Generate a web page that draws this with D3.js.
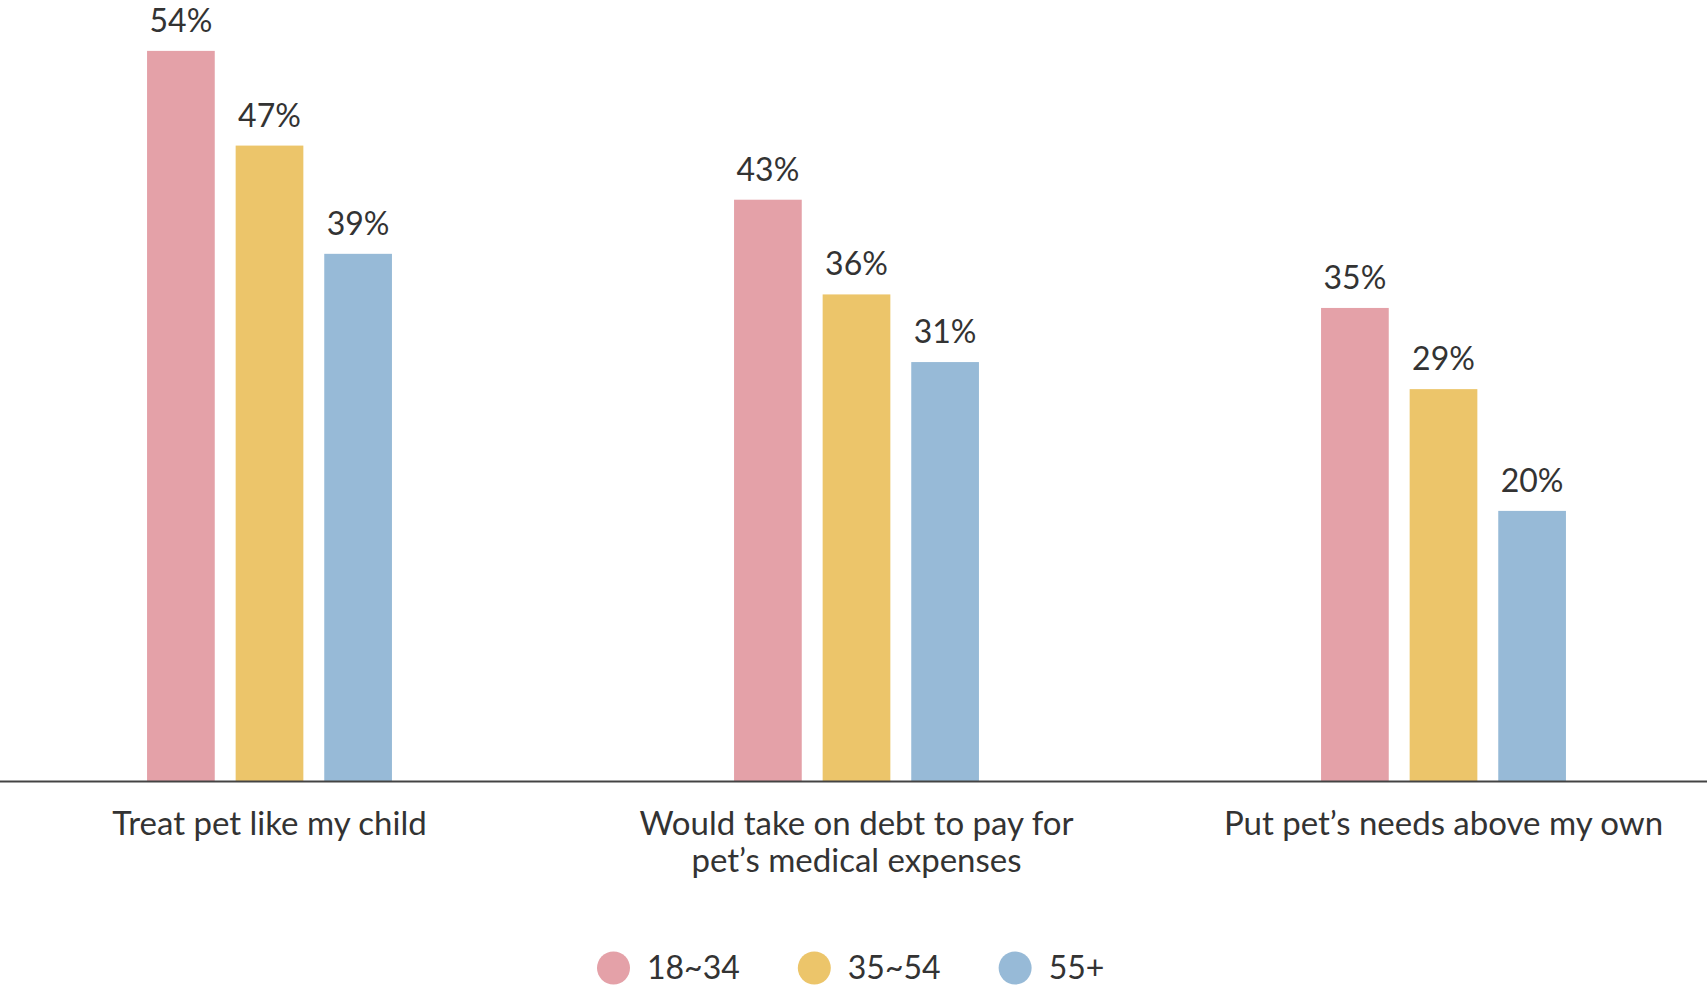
<!DOCTYPE html>
<html>
<head>
<meta charset="utf-8">
<script src="https://cdn.jsdelivr.net/npm/d3@7"></script>
<style>
  body { margin: 0; background: #fff; }
  text { font-family: Lato, "Noto Sans", sans-serif; fill: #333; }
</style>
</head>
<body>
<script>
var width = 1707;
var height = 988;

// data
var categories = ["Treat pet like my child", "Would take on debt to pay for|pet\u2019s medical expenses", "Put pet\u2019s needs above my own"];
var series = ["18~34", "35~54", "55+"];
var values = [
    [54, 47, 39],   // treat pet like my child
    [43, 36, 31],   // take on debt
    [35, 29, 20]    // needs above my own
];
var colors = ["#e4a1a8", "#ecc56a", "#97bad7"];

var baseline = 781.5;

var svg = d3.select("body")
    .append("svg")
    .attr("width", width)
    .attr("height", height);

// group centres
var x = d3.scalePoint()
    .domain(categories)
    .range([269.5, 1443.5]);

// bars inside a group
var step = 88.6;
var barW = 67.7;
var xs = d3.scaleBand()
    .domain(series)
    .range([-step * 1.5, step * 1.5])
    .paddingInner((step - barW) / step)
    .paddingOuter((step - barW) / step / 2);

var y = d3.scaleLinear()
    .domain([0, 54])
    .range([baseline, baseline - 54 * 13.53]);

var groups = svg.append("g")
    .selectAll("g")
    .data(categories)
    .enter().append("g")
    .attr("transform", d => `translate(${x(d)},0)`);

groups.selectAll("rect")
    .data((d, i) => values[i].map((v, j) => ({ s: series[j], v: v, c: colors[j] })))
    .enter().append("rect")
    .attr("x", d => xs(d.s))
    .attr("width", xs.bandwidth())
    .attr("y", d => y(d.v))
    .attr("height", d => baseline - y(d.v))
    .attr("fill", d => d.c);

// value labels
groups.selectAll("text.val")
    .data((d, i) => values[i].map((v, j) => ({ s: series[j], v: v })))
    .enter().append("text")
    .attr("class", "val")
    .attr("x", d => xs(d.s) + xs.bandwidth() / 2)
    .attr("y", d => y(d.v) - 19)
    .attr("text-anchor", "middle")
    .attr("font-size", "32px")
    .text(d => d.v + "%");

// axis line
svg.append("line")
    .attr("x1", 0)
    .attr("x2", width)
    .attr("y1", baseline)
    .attr("y2", baseline)
    .attr("stroke", "#444")
    .attr("stroke-width", 2);

// category labels, "|" splits lines
groups.append("text")
    .attr("text-anchor", "middle")
    .attr("font-size", "33px")
    .each(function (d) {
        var t = d3.select(this);
        d.split("|").forEach((line, k) => {
            t.append("tspan")
                .attr("x", 0)
                .attr("y", 835 + k * 37)
                .text(line);
        });
    });

// legend
var legend = svg.append("g").attr("transform", "translate(597,968)");
var lx = 0;
series.forEach((s, i) => {
    var item = legend.append("g").attr("transform", `translate(${lx},0)`);
    item.append("circle")
        .attr("cx", 16.5)
        .attr("cy", 0)
        .attr("r", 16.5)
        .attr("fill", colors[i]);
    var t = item.append("text")
        .attr("x", 50)
        .attr("y", 10.5)
        .attr("font-size", "32px")
        .attr("font-family", "'Noto Sans', sans-serif")
        .text(s);
    lx += 50 + t.node().getComputedTextLength() + 58;
});
</script>
</body>
</html>
